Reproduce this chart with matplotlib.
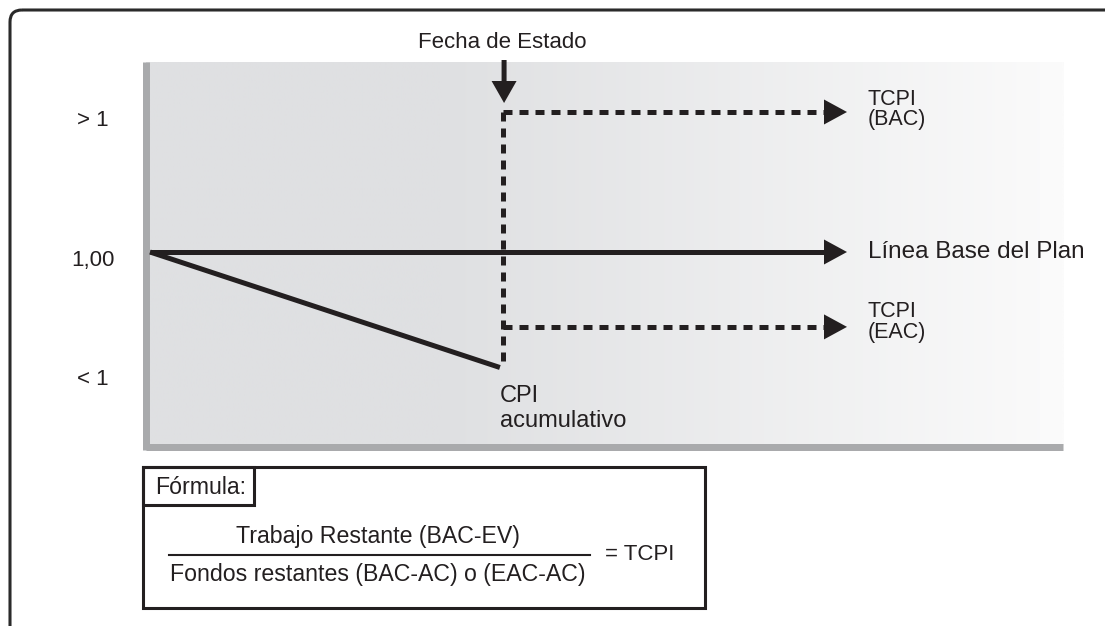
import numpy as np
import matplotlib
matplotlib.use("Agg")
import matplotlib.pyplot as plt
from matplotlib.patches import Rectangle, FancyBboxPatch
from matplotlib.colors import LinearSegmentedColormap

# ---------------- data ----------------
ytick_labels = ["> 1", "1,00", "< 1"]
ytick_values = [1.191, 0.991, 0.821]
baseline_cpi = 1.00          # Línea Base del Plan
tcpi_bac = 1.20              # TCPI (BAC)
tcpi_eac = 0.893             # TCPI (EAC)
cpi_cumulative = 0.835       # CPI acumulativo at status date
start_time = 0.0
status_date = 50.6           # Fecha de Estado
end_time = 100.0             # arrow tips
label_x = 103.0
formula_numerator = "Trabajo Restante (BAC-EV)"
formula_denominator = "Fondos restantes (BAC-AC) o (EAC-AC)"
formula_result = "= TCPI"
formula_title = "Fórmula:"

# ---------------- style ----------------
W, H = 1105, 626
INK = "#231f20"
AXIS_GRAY = "#a9aaac"
plt.rcParams['font.family'] = ['Liberation Sans', 'DejaVu Sans']

fig = plt.figure(figsize=(W / 100, H / 100), dpi=100)
fig.patch.set_facecolor("white")

# overlay axes in pixel coordinates for frame / formula box
ov = fig.add_axes([0, 0, 1, 1], zorder=0)
ov.set_xlim(0, W)
ov.set_ylim(H, 0)
ov.axis("off")

# main diagram axes
ax_l, ax_r, ax_t, ax_b = 145.5, 1063, 62, 446.5
ax = fig.add_axes([ax_l / W, 1 - ax_b / H, (ax_r - ax_l) / W, (ax_b - ax_t) / H], zorder=1)
ax.set_facecolor("none")

px_per_x = 6.97
px_per_y = 700.0
x0 = (ax_l - 150) / px_per_x
x1 = (ax_r - 150) / px_per_x
y1 = 1 + (252 - ax_t) / px_per_y
y0 = 1 - (ax_b - 252) / px_per_y
ax.set_xlim(x0, x1)
ax.set_ylim(y0, y1)

# gradient background
xs = np.linspace(ax_l, ax_r, 600)
t = np.clip((xs - 440) / (ax_r - 440), 0, 1)
cmap = LinearSegmentedColormap.from_list("bg", ["#dfe0e2", "#fbfbfb"])
ax.imshow(t[None, :], extent=[x0, x1, y0, y1], aspect="auto", cmap=cmap,
          vmin=0, vmax=1, zorder=0, interpolation="bilinear")

for s in ["top", "right"]:
    ax.spines[s].set_visible(False)
for s in ["left", "bottom"]:
    ax.spines[s].set_color(AXIS_GRAY)
    ax.spines[s].set_linewidth(5.04)
    ax.spines[s].set_capstyle("butt")
ax.spines["left"].set_bounds(y0 - 3.5 / px_per_y, y1)

ax.set_xticks([])
ax.set_yticks(ytick_values, ytick_labels)
ax.tick_params(axis="y", length=0, pad=37.8, labelsize=16, labelcolor=INK)
for lbl in ax.get_yticklabels():
    lbl.set_ha("center")

LW = 3.6
head_len = 23 / px_per_x
head_w = 25 / px_per_y
arrow_base = end_time - head_len
dash = (0, (1.8, 1.4))

# baseline
ax.plot([start_time, arrow_base], [baseline_cpi, baseline_cpi], color=INK, lw=LW,
        solid_capstyle="butt", zorder=3)
# cumulative CPI decline
ax.plot([start_time, status_date - 0.4], [baseline_cpi, cpi_cumulative], color=INK, lw=LW,
        solid_capstyle="butt", zorder=3)
# status date vertical dashed
ax.plot([status_date, status_date], [tcpi_bac, cpi_cumulative], color=INK, lw=LW,
        linestyle=dash, dash_capstyle="butt", zorder=3)
# TCPI dashed lines
for yv in [tcpi_bac, tcpi_eac]:
    ax.plot([status_date, arrow_base], [yv, yv], color=INK, lw=LW,
            linestyle=dash, dash_capstyle="butt", zorder=3)
# arrow heads
for yv in [tcpi_bac, baseline_cpi, tcpi_eac]:
    ax.arrow(end_time - head_len, yv, head_len, 0, width=0, head_width=head_w,
             head_length=head_len, length_includes_head=True, fc=INK, ec="none",
             lw=0, zorder=4)

# status date arrow
y_arrow_start = 1 + (252 - 60) / px_per_y
y_arrow_tip = 1 + (252 - 103) / px_per_y
ax.arrow(status_date + 0.2, y_arrow_start, 0, y_arrow_tip - y_arrow_start,
         width=5 / px_per_x, head_width=25 / px_per_x, head_length=22 / px_per_y,
         length_includes_head=True, fc=INK, ec="none", lw=0, clip_on=False, zorder=4)
ax.text(status_date, 1 + (252 - 43) / px_per_y, "Fecha de Estado", ha="center",
        va="center", fontsize=16, color=INK, clip_on=False)

# right labels
ax.text(label_x, baseline_cpi, "Línea Base del Plan", ha="left", va="center",
        fontsize=17.5, color=INK)
ax.text(label_x, tcpi_bac + 0.018, "TCPI", ha="left", va="center", fontsize=15.5, color=INK)
ax.text(label_x, tcpi_bac - 0.011, "(BAC)", ha="left", va="center", fontsize=15.5, color=INK)
ax.text(label_x, tcpi_eac + 0.022, "TCPI", ha="left", va="center", fontsize=15.5, color=INK)
ax.text(label_x, tcpi_eac - 0.008, "(EAC)", ha="left", va="center", fontsize=15.5, color=INK)

# CPI acumulativo
ax.text(status_date - 0.4, 1 - (396 - 252) / px_per_y, "CPI", ha="left", va="center",
        fontsize=17, color=INK)
ax.text(status_date - 0.4, 1 - (421 - 252) / px_per_y, "acumulativo", ha="left",
        va="center", fontsize=17, color=INK)

# outer rounded frame
ov.add_patch(FancyBboxPatch((10, 10), 1120, 630, boxstyle="round,pad=0,rounding_size=12",
                            fill=False, lw=2.2, ec="#2a2a2a"))

# formula box
FS = 16.7
ov.add_patch(Rectangle((143, 467), 562, 141, fill=False, lw=2.2, ec=INK))
ov.add_patch(Rectangle((143, 467), 111, 38, fill=False, lw=2.2, ec=INK))
ov.text(155, 487, formula_title, ha="left", va="center", fontsize=FS, color=INK)
ov.plot([169, 590], [555, 555], color=INK, lw=1.5)
ov.text(378, 537, formula_numerator, ha="center", va="center", fontsize=FS, color=INK)
ov.text(378, 575, formula_denominator, ha="center", va="center", fontsize=FS, color=INK)
ov.text(605, 555, formula_result, ha="left", va="center", fontsize=16, color=INK)

fig.savefig("out.png", dpi=100)
